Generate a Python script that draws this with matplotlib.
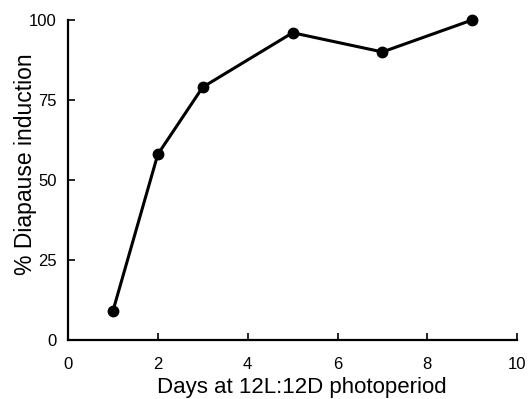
import matplotlib.pyplot as plt

plt.rcParams['font.family'] = ['Liberation Sans', 'DejaVu Sans']

# days at 12L:12D vs percent diapause induction
days = [1, 2, 3, 5, 7, 9]
diapause_pct = [9, 58, 79, 96, 90, 100]

fig = plt.figure(figsize=(5.31, 3.99), dpi=100)
ax = fig.add_axes([0.128, 0.148, 0.846, 0.802])

ax.plot(days, diapause_pct, color="black", linewidth=2.2,
        marker="o", markersize=7.5, clip_on=False)

ax.set_xlim(0, 10)
ax.set_ylim(0, 100)
ax.set_xticks([0, 2, 4, 6, 8, 10])
ax.set_yticks([0, 25, 50, 75, 100])

ax.spines["top"].set_visible(False)
ax.spines["right"].set_visible(False)
ax.spines["left"].set_linewidth(1.6)
ax.spines["bottom"].set_linewidth(1.6)
ax.tick_params(direction="in", length=5, width=1.2, labelsize=12)
ax.tick_params(axis="x", pad=12)
ax.tick_params(axis="y", pad=8)

ax.set_xlabel("Days at 12L:12D photoperiod", fontsize=16)
ax.set_ylabel("% Diapause induction", fontsize=16.5)
ax.xaxis.set_label_coords(0.521, -0.115)
ax.yaxis.set_label_coords(-0.069, 0.55)

fig.savefig("out.png", dpi=100)
